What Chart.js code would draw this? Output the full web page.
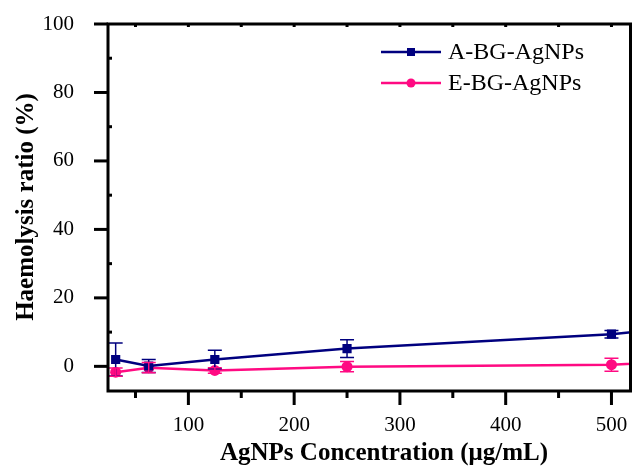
<!DOCTYPE html>
<html>
<head>
<meta charset="utf-8">
<script src="https://cdn.jsdelivr.net/npm/chart.js@4/dist/chart.umd.min.js"></script>
<style>
  body { margin: 0; background: #fff; overflow: hidden; }
  #wrap { width: 632px; height: 468px; overflow: hidden; }
</style>
</head>
<body>
<!-- el lienzo es 5px más ancho: el margen mínimo de los puntos deja el marco derecho recortado como en el original -->
<div id="wrap"><canvas id="grafico" width="637" height="468"></canvas></div>
<script>
// datos
var concentraciones = [31.25, 62.5, 125, 250, 500, 1000];
var valoresA = [2.0, 0.1, 2.0, 5.2, 9.4, 24];
var erroresA = [4.8, 1.9, 2.7, 2.6, 1.1, 1.5];
var valoresE = [-1.7, -0.4, -1.2, -0.1, 0.5, 8.5];
var erroresE = [1.2, 1.5, 0.8, 1.5, 1.9, 1.5];
var etiquetasSeries = ['A-BG-AgNPs', 'E-BG-AgNPs'];
var ticksX = [100, 200, 300, 400, 500];
var ticksY = [0, 20, 40, 60, 80, 100];
var tituloX = 'AgNPs Concentration (\u03bcg/mL)';
var tituloY = 'Haemolysis ratio (%)';

var colorA = '#00007f';
var colorE = '#ff0a82';
var fuente = '"Liberation Serif", "Times New Roman", serif';

function puntos(valores) {
  return concentraciones.map(function (c, i) { return { x: c, y: valores[i] }; });
}

// plugin: barras de error, marco, ticks, títulos y leyenda
var extras = {
  id: 'extras',
  afterDatasetsDraw: function (chart) {
    var ctx = chart.ctx;
    var xs = chart.scales.x;
    var ys = chart.scales.y;
    var area = chart.chartArea;
    var errores = [erroresA, erroresE];

    // barras de error
    ctx.save();
    ctx.beginPath();
    ctx.rect(area.left, area.top, area.right - area.left, area.bottom - area.top);
    ctx.clip();
    chart.data.datasets.forEach(function (ds, k) {
      ctx.strokeStyle = ds.borderColor;
      ctx.lineWidth = 1.5;
      ds.data.forEach(function (p, i) {
        var px = xs.getPixelForValue(p.x);
        var top = ys.getPixelForValue(p.y + errores[k][i]);
        var bot = ys.getPixelForValue(p.y - errores[k][i]);
        ctx.beginPath();
        ctx.moveTo(px, top); ctx.lineTo(px, bot);
        ctx.moveTo(px - 7, top); ctx.lineTo(px + 7, top);
        ctx.moveTo(px - 7, bot); ctx.lineTo(px + 7, bot);
        ctx.stroke();
      });
    });
    ctx.restore();

    // marco
    ctx.save();
    ctx.strokeStyle = '#000';
    ctx.lineWidth = 3;
    ctx.strokeRect(area.left, area.top, area.right - area.left, area.bottom - area.top);

    // ticks eje X
    for (var v = 50; v <= xs.max; v += 50) {
      if (v < xs.min) continue;
      var px = xs.getPixelForValue(v);
      var mayor = v % 100 === 0;
      ctx.beginPath();
      ctx.moveTo(px, area.bottom);
      ctx.lineTo(px, area.bottom + (mayor ? 14 : 7));
      ctx.moveTo(px, area.top);
      ctx.lineTo(px, area.top + 3);
      ctx.stroke();
    }
    // ticks eje Y
    for (var w = 0; w <= 100; w += 10) {
      var py = ys.getPixelForValue(w);
      ctx.beginPath();
      if (w % 20 === 0) {
        ctx.moveTo(area.left - 14, py);
        ctx.lineTo(area.left, py);
      } else {
        ctx.moveTo(area.left, py);
        ctx.lineTo(area.left + 4, py);
      }
      ctx.stroke();
    }

    // títulos
    ctx.fillStyle = '#000';
    ctx.font = 'bold 25px ' + fuente;
    ctx.textAlign = 'center';
    ctx.textBaseline = 'alphabetic';
    ctx.fillText(tituloX, 384, 460);
    ctx.translate(33, 207);
    ctx.rotate(-Math.PI / 2);
    ctx.fillText(tituloY, 0, 0);
    ctx.restore();

    // leyenda
    ctx.save();
    ctx.font = '24px ' + fuente;
    ctx.textBaseline = 'middle';
    ctx.textAlign = 'left';
    chart.data.datasets.forEach(function (ds, k) {
      var ly = 52 + k * 31;
      var x0 = 381, x1 = 441, xm = (x0 + x1) / 2;
      ctx.strokeStyle = ds.borderColor;
      ctx.lineWidth = 2.5;
      ctx.beginPath();
      ctx.moveTo(x0, ly); ctx.lineTo(x1, ly);
      ctx.stroke();
      ctx.fillStyle = ds.borderColor;
      if (k === 0) {
        ctx.fillRect(xm - 4, ly - 4, 8, 8);
      } else {
        ctx.beginPath();
        ctx.arc(xm, ly, 4.5, 0, Math.PI * 2);
        ctx.fill();
      }
      ctx.fillStyle = '#000';
      ctx.fillText(ds.label, 448, ly + 1);
    });
    ctx.restore();
  }
};

var ctx = document.getElementById('grafico').getContext('2d');
var grafico = new Chart(ctx, {
  type: 'line',
  data: {
    datasets: [
      {
        label: etiquetasSeries[0],
        data: puntos(valoresA),
        borderColor: colorA,
        backgroundColor: colorA,
        borderWidth: 2.5,
        pointStyle: 'rect',
        pointRadius: 6.5,
        pointBorderWidth: 0,
        tension: 0,
      },
      {
        label: etiquetasSeries[1],
        data: puntos(valoresE),
        borderColor: colorE,
        backgroundColor: colorE,
        borderWidth: 2.5,
        pointStyle: 'circle',
        pointRadius: 5.5,
        pointBorderWidth: 0,
        tension: 0,
      },
    ],
  },
  options: {
    responsive: false,
    animation: false,
    layout: { padding: { top: 24, right: 0, left: 0, bottom: 0 } },
    plugins: { legend: { display: false }, tooltip: { enabled: false } },
    scales: {
      x: {
        type: 'linear',
        min: 24,
        max: 518,
        afterBuildTicks: function (s) { s.ticks = ticksX.map(function (v) { return { value: v }; }); },
        afterFit: function (s) { s.height = 77; s.paddingLeft = 0; s.paddingRight = 0; },
        grid: { display: false },
        border: { display: false },
        ticks: { color: '#000', padding: 14, maxRotation: 0, font: { family: fuente, size: 21 } },
      },
      y: {
        min: -7.2,
        max: 100,
        afterBuildTicks: function (s) { s.ticks = ticksY.map(function (v) { return { value: v }; }); },
        afterFit: function (s) { s.width = 108; s.paddingTop = 0; s.paddingBottom = 0; },
        grid: { display: false },
        border: { display: false },
        ticks: { color: '#000', padding: 26, font: { family: fuente, size: 21 } },
      },
    },
  },
  plugins: [extras],
});
</script>
</body>
</html>
